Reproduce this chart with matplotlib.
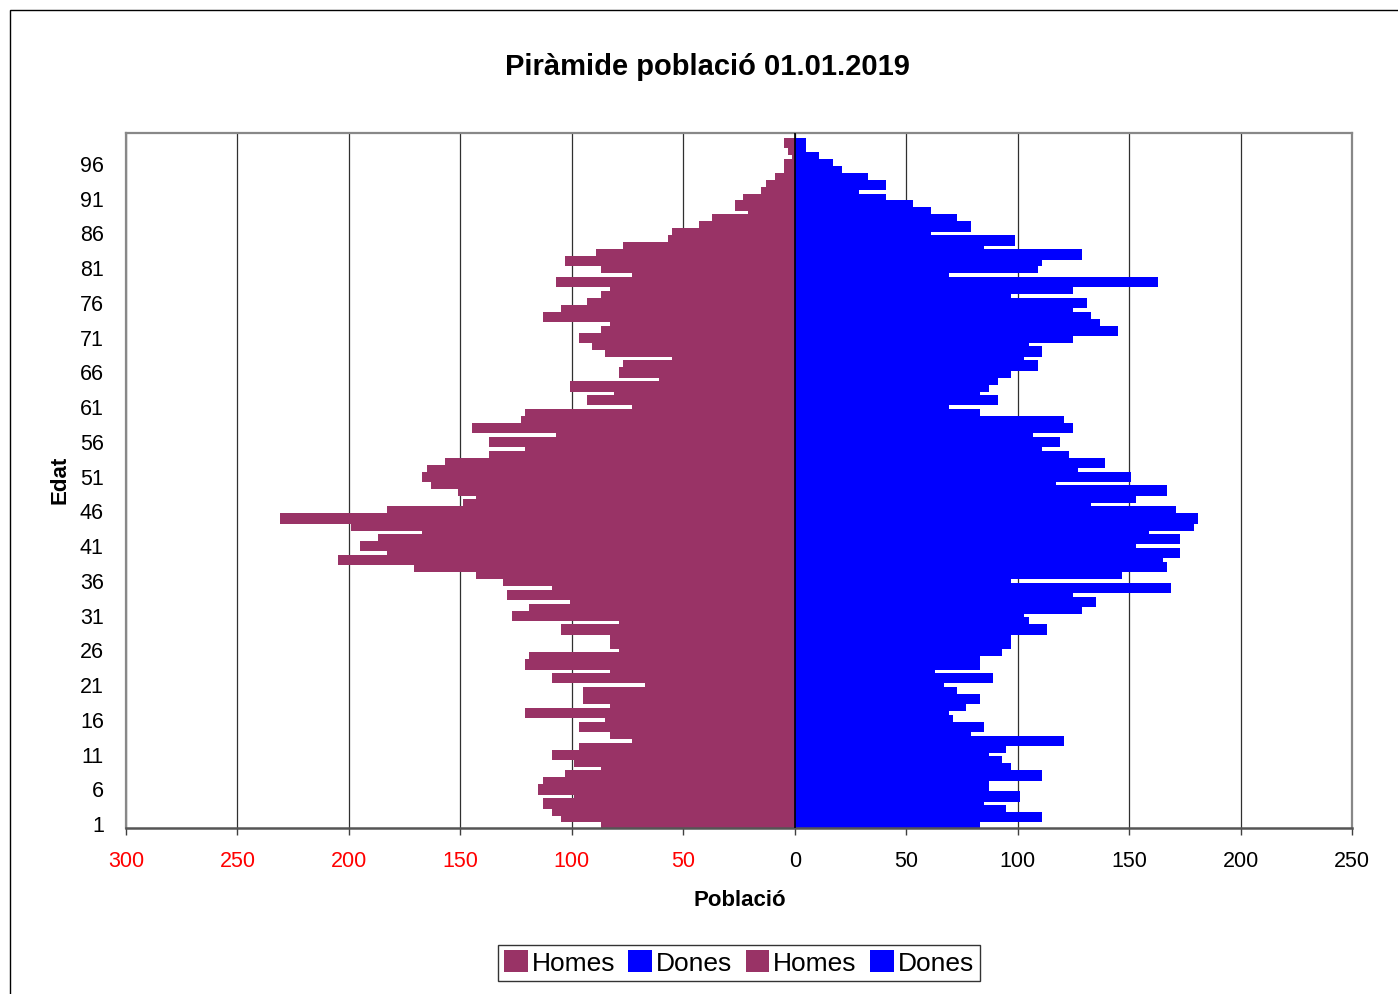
import matplotlib
matplotlib.use('Agg')
import matplotlib.pyplot as plt
import numpy as np
from matplotlib.patches import Patch, Rectangle

plt.rcParams['font.family'] = ['Liberation Sans', 'DejaVu Sans']

# ---------------- data ----------------
ages = list(range(1, 101))
homes = [87, 105, 109, 113, 99, 115, 113, 103, 87, 99,
         109, 97, 73, 83, 97, 85, 121, 83, 95, 95,
         67, 109, 83, 121, 119, 79, 83, 83, 105, 79,
         127, 119, 101, 129, 109, 131, 143, 171, 205, 183,
         195, 187, 167, 199, 231, 183, 149, 143, 151, 163,
         167, 165, 157, 137, 121, 137, 107, 145, 123, 121,
         73, 93, 81, 101, 61, 79, 77, 55, 85, 91,
         97, 87, 83, 113, 105, 93, 87, 83, 107, 73,
         87, 103, 89, 77, 57, 55, 43, 37, 21, 27,
         23, 15, 13, 9, 5, 5, 1, 3, 5, 0]
dones = [83, 111, 95, 85, 101, 87, 87, 111, 97, 93,
         87, 95, 121, 79, 85, 71, 69, 77, 83, 73,
         67, 89, 63, 83, 83, 93, 97, 97, 113, 105,
         103, 129, 135, 125, 169, 97, 147, 167, 165, 173,
         153, 173, 159, 179, 181, 171, 133, 153, 167, 117,
         151, 127, 139, 123, 111, 119, 107, 125, 121, 83,
         69, 91, 83, 87, 91, 97, 109, 103, 111, 105,
         125, 145, 137, 133, 125, 131, 97, 125, 163, 69,
         109, 111, 129, 85, 99, 61, 79, 73, 61, 53,
         41, 29, 41, 33, 21, 17, 11, 5, 5, 0]
series_labels = ['Homes', 'Dones', 'Homes', 'Dones']
x_ticks = [-300, -250, -200, -150, -100, -50, 0, 50, 100, 150, 200, 250]
x_ticklabels = ['300', '250', '200', '150', '100', '50', '0', '50', '100', '150', '200', '250']
y_ticks = list(range(1, 97, 5))
title = 'Piràmide població 01.01.2019'
xlabel = 'Població'
ylabel = 'Edat'

# ---------------- style ----------------
c_h = '#993366'
c_d = '#0000FF'
W, H = 1398, 994

fig = plt.figure(figsize=(W / 100, H / 100), dpi=100)
fig.patch.set_facecolor('white')

ax = fig.add_axes([126 / W, 1 - 827.7 / H, (1352 - 126) / W, (827.7 - 132.7) / H])

y = np.array(ages, dtype=float)
h = np.array(homes, dtype=float)
d = np.array(dones, dtype=float)
off = 0.25
ax.barh(y - off, -h, height=1.0, color=c_h, linewidth=0, label=series_labels[0], zorder=2)
ax.barh(y - off, d, height=1.0, color=c_d, linewidth=0, label=series_labels[1], zorder=2)
ax.barh(y + off, -h, height=1.0, color=c_h, linewidth=0, label=series_labels[2], zorder=2)
ax.barh(y + off, d, height=1.0, color=c_d, linewidth=0, label=series_labels[3], zorder=2)

ax.set_xlim(-300, 250)
ax.set_ylim(0.5, 100.5)

ax.set_xticks(x_ticks)
ax.set_xticklabels(x_ticklabels)
for lab, v in zip(ax.get_xticklabels(), x_ticks):
    lab.set_color('#FF0000' if v < 0 else 'black')
ax.set_yticks(y_ticks)
ax.set_yticklabels([str(v) for v in y_ticks])

ax.tick_params(axis='x', direction='out', length=5, width=1, color='#404040',
               labelsize=15.5, pad=12)
ax.tick_params(axis='y', length=0, labelsize=15.5, pad=16)

ax.set_axisbelow(True)
ax.grid(axis='x', color='#303030', linewidth=0.9, zorder=0)
ax.grid(axis='y', visible=False)
ax.axvline(0, color='black', linewidth=1.2, zorder=5)

for s in ['top', 'left', 'right']:
    ax.spines[s].set_color('#888888')
    ax.spines[s].set_linewidth(1.6)
ax.spines['bottom'].set_color('#555555')
ax.spines['bottom'].set_linewidth(1.8)

fig.text(707 / W, 1 - 67 / H, title, ha='center', va='center', fontsize=21, fontweight='bold')
fig.text(740 / W, 1 - 901 / H, xlabel, ha='center', va='center', fontsize=16, fontweight='bold')
fig.text(60 / W, 1 - 480 / H, ylabel, ha='center', va='center', fontsize=16, fontweight='bold',
         rotation=90)

handles = [Patch(facecolor=c_h, edgecolor='none'), Patch(facecolor=c_d, edgecolor='none'),
           Patch(facecolor=c_h, edgecolor='none'), Patch(facecolor=c_d, edgecolor='none')]
leg = fig.legend(handles, series_labels, loc='center', bbox_to_anchor=(739 / W, 1 - 963 / H),
                 ncol=4, frameon=True, fancybox=False, edgecolor='black', fontsize=19,
                 handlelength=0.9, handleheight=0.9, handletextpad=0.15, columnspacing=0.5,
                 borderpad=0.22, borderaxespad=0)
leg.get_frame().set_linewidth(1.0)

# outer chart-area border (extends beyond right/bottom edge)
fig.add_artist(Rectangle((10 / W, -0.5), 5, 1 - 10 / H + 0.5, transform=fig.transFigure,
                         fill=False, edgecolor='black', linewidth=1.0))

fig.savefig('out.png', dpi=100)
